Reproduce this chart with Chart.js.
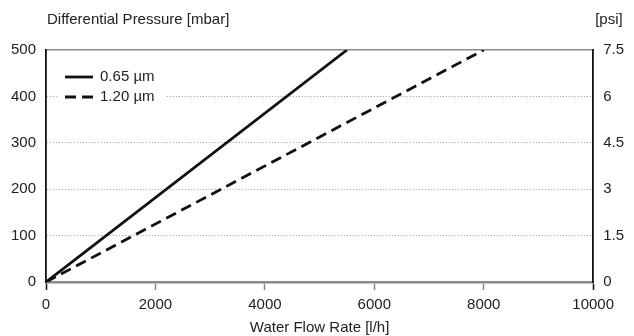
<!DOCTYPE html>
<html>
<head>
<meta charset="utf-8">
<script src="https://cdn.jsdelivr.net/npm/chart.js@4"></script>
<style>
  html, body { margin: 0; padding: 0; background: #fff; }
</style>
</head>
<body>
<canvas id="pressure" width="634" height="336"></canvas>
<script>
'use strict';

// values
const flow065 = [0, 5500];
const pressure065 = [0, 500];
const flow120 = [0, 8000];
const pressure120 = [0, 500];
const seriesLabels = ['0.65 µm', '1.20 µm'];
const xTicks = [0, 2000, 4000, 6000, 8000, 10000];
const mbarTicks = [0, 100, 200, 300, 400, 500];
const psiTicks = [0, 1.5, 3, 4.5, 6, 7.5];

const FONT = "'Liberation Sans', Arial, sans-serif";
const TEXT = '#222';

const toPoints = (xs, ys) => xs.map((x, i) => ({ x, y: ys[i] }));

// headers above the plot and the inset legend
const decorations = {
  id: 'decorations',
  afterDraw(chart) {
    const { ctx, chartArea } = chart;
    const y2 = chart.scales.y2;
    ctx.save();
    ctx.font = '15px ' + FONT;
    ctx.fillStyle = TEXT;
    ctx.textBaseline = 'middle';
    ctx.textAlign = 'left';
    ctx.fillText('Differential Pressure [mbar]', chartArea.left + 1, 20);
    ctx.fillText('[psi]', y2.left + 2, 20);

    // legend
    const lx = chartArea.left + 19;
    const rows = [77, 97];
    ctx.fillStyle = '#fff';
    ctx.fillRect(chartArea.left + 12, 66, 108, 42);
    chart.data.datasets.forEach((ds, i) => {
      ctx.strokeStyle = ds.borderColor;
      ctx.lineWidth = ds.borderWidth;
      ctx.setLineDash(ds.borderDash || []);
      ctx.beginPath();
      ctx.moveTo(lx, rows[i]);
      ctx.lineTo(lx + 28, rows[i]);
      ctx.stroke();
      ctx.setLineDash([]);
      ctx.fillStyle = TEXT;
      ctx.fillText(ds.label, lx + 35, rows[i]);
    });
    ctx.restore();
  },
};

const ctx = document.getElementById('pressure').getContext('2d');

const pressureChart = new Chart(ctx, {
  type: 'line',
  data: {
    datasets: [
      {
        label: seriesLabels[0],
        data: toPoints(flow065, pressure065),
        borderColor: '#111',
        borderWidth: 2.8,
        pointRadius: 0,
        tension: 0,
        yAxisID: 'y',
      },
      {
        label: seriesLabels[1],
        data: toPoints(flow120, pressure120),
        borderColor: '#111',
        borderWidth: 2.8,
        borderDash: [11, 6],
        pointRadius: 0,
        tension: 0,
        yAxisID: 'y',
      },
    ],
  },
  options: {
    responsive: false,
    animation: false,
    layout: { padding: { top: 50, left: 1, right: 0, bottom: 0 } },
    plugins: {
      legend: { display: false },
      tooltip: { enabled: false },
    },
    scales: {
      x: {
        type: 'linear',
        min: 0,
        max: 10000,
        afterBuildTicks: (scale) => {
          scale.ticks = xTicks.map((v) => ({ value: v }));
        },
        grid: {
          drawOnChartArea: false,
          drawTicks: true,
          tickLength: 8,
          tickWidth: 1.5,
          tickColor: (c) =>
            c.tick && (c.tick.value === 0 || c.tick.value === 10000) ? '#111' : '#888',
        },
        border: { color: '#8a8a8a', width: 2.5 },
        ticks: {
          font: { family: FONT, size: 15 },
          color: TEXT,
          padding: 6,
          maxRotation: 0,
          callback: (v) => String(v),
        },
        title: {
          display: true,
          text: 'Water Flow Rate [l/h]',
          font: { family: FONT, size: 15, lineHeight: 1.0 },
          color: TEXT,
          padding: { top: 0, bottom: 1 },
        },
      },
      xTop: {
        type: 'linear',
        position: 'top',
        min: 0,
        max: 10000,
        ticks: { display: false },
        grid: { display: false, drawTicks: false },
        border: { color: '#8a8a8a', width: 1.5 },
      },
      y: {
        type: 'linear',
        position: 'left',
        min: 0,
        max: 500,
        afterBuildTicks: (scale) => {
          scale.ticks = mbarTicks.map((v) => ({ value: v }));
        },
        grid: {
          drawTicks: false,
          lineWidth: 1,
          color: (c) =>
            c.tick && (c.tick.value === 0 || c.tick.value === 500) ? 'rgba(0,0,0,0)' : '#9a9a9a',
        },
        border: { color: '#111', width: 1.8, dash: [1, 2] },
        ticks: {
          font: { family: FONT, size: 15 },
          color: TEXT,
          padding: 10,
        },
      },
      y2: {
        type: 'linear',
        position: 'right',
        min: 0,
        max: 7.5,
        afterBuildTicks: (scale) => {
          scale.ticks = psiTicks.map((v) => ({ value: v }));
        },
        grid: { drawOnChartArea: false, drawTicks: false },
        border: { color: '#111', width: 1.8 },
        ticks: {
          font: { family: FONT, size: 15 },
          color: TEXT,
          padding: 10,
          callback: (v) => String(v),
        },
      },
    },
  },
  plugins: [decorations],
});
</script>
</body>
</html>
